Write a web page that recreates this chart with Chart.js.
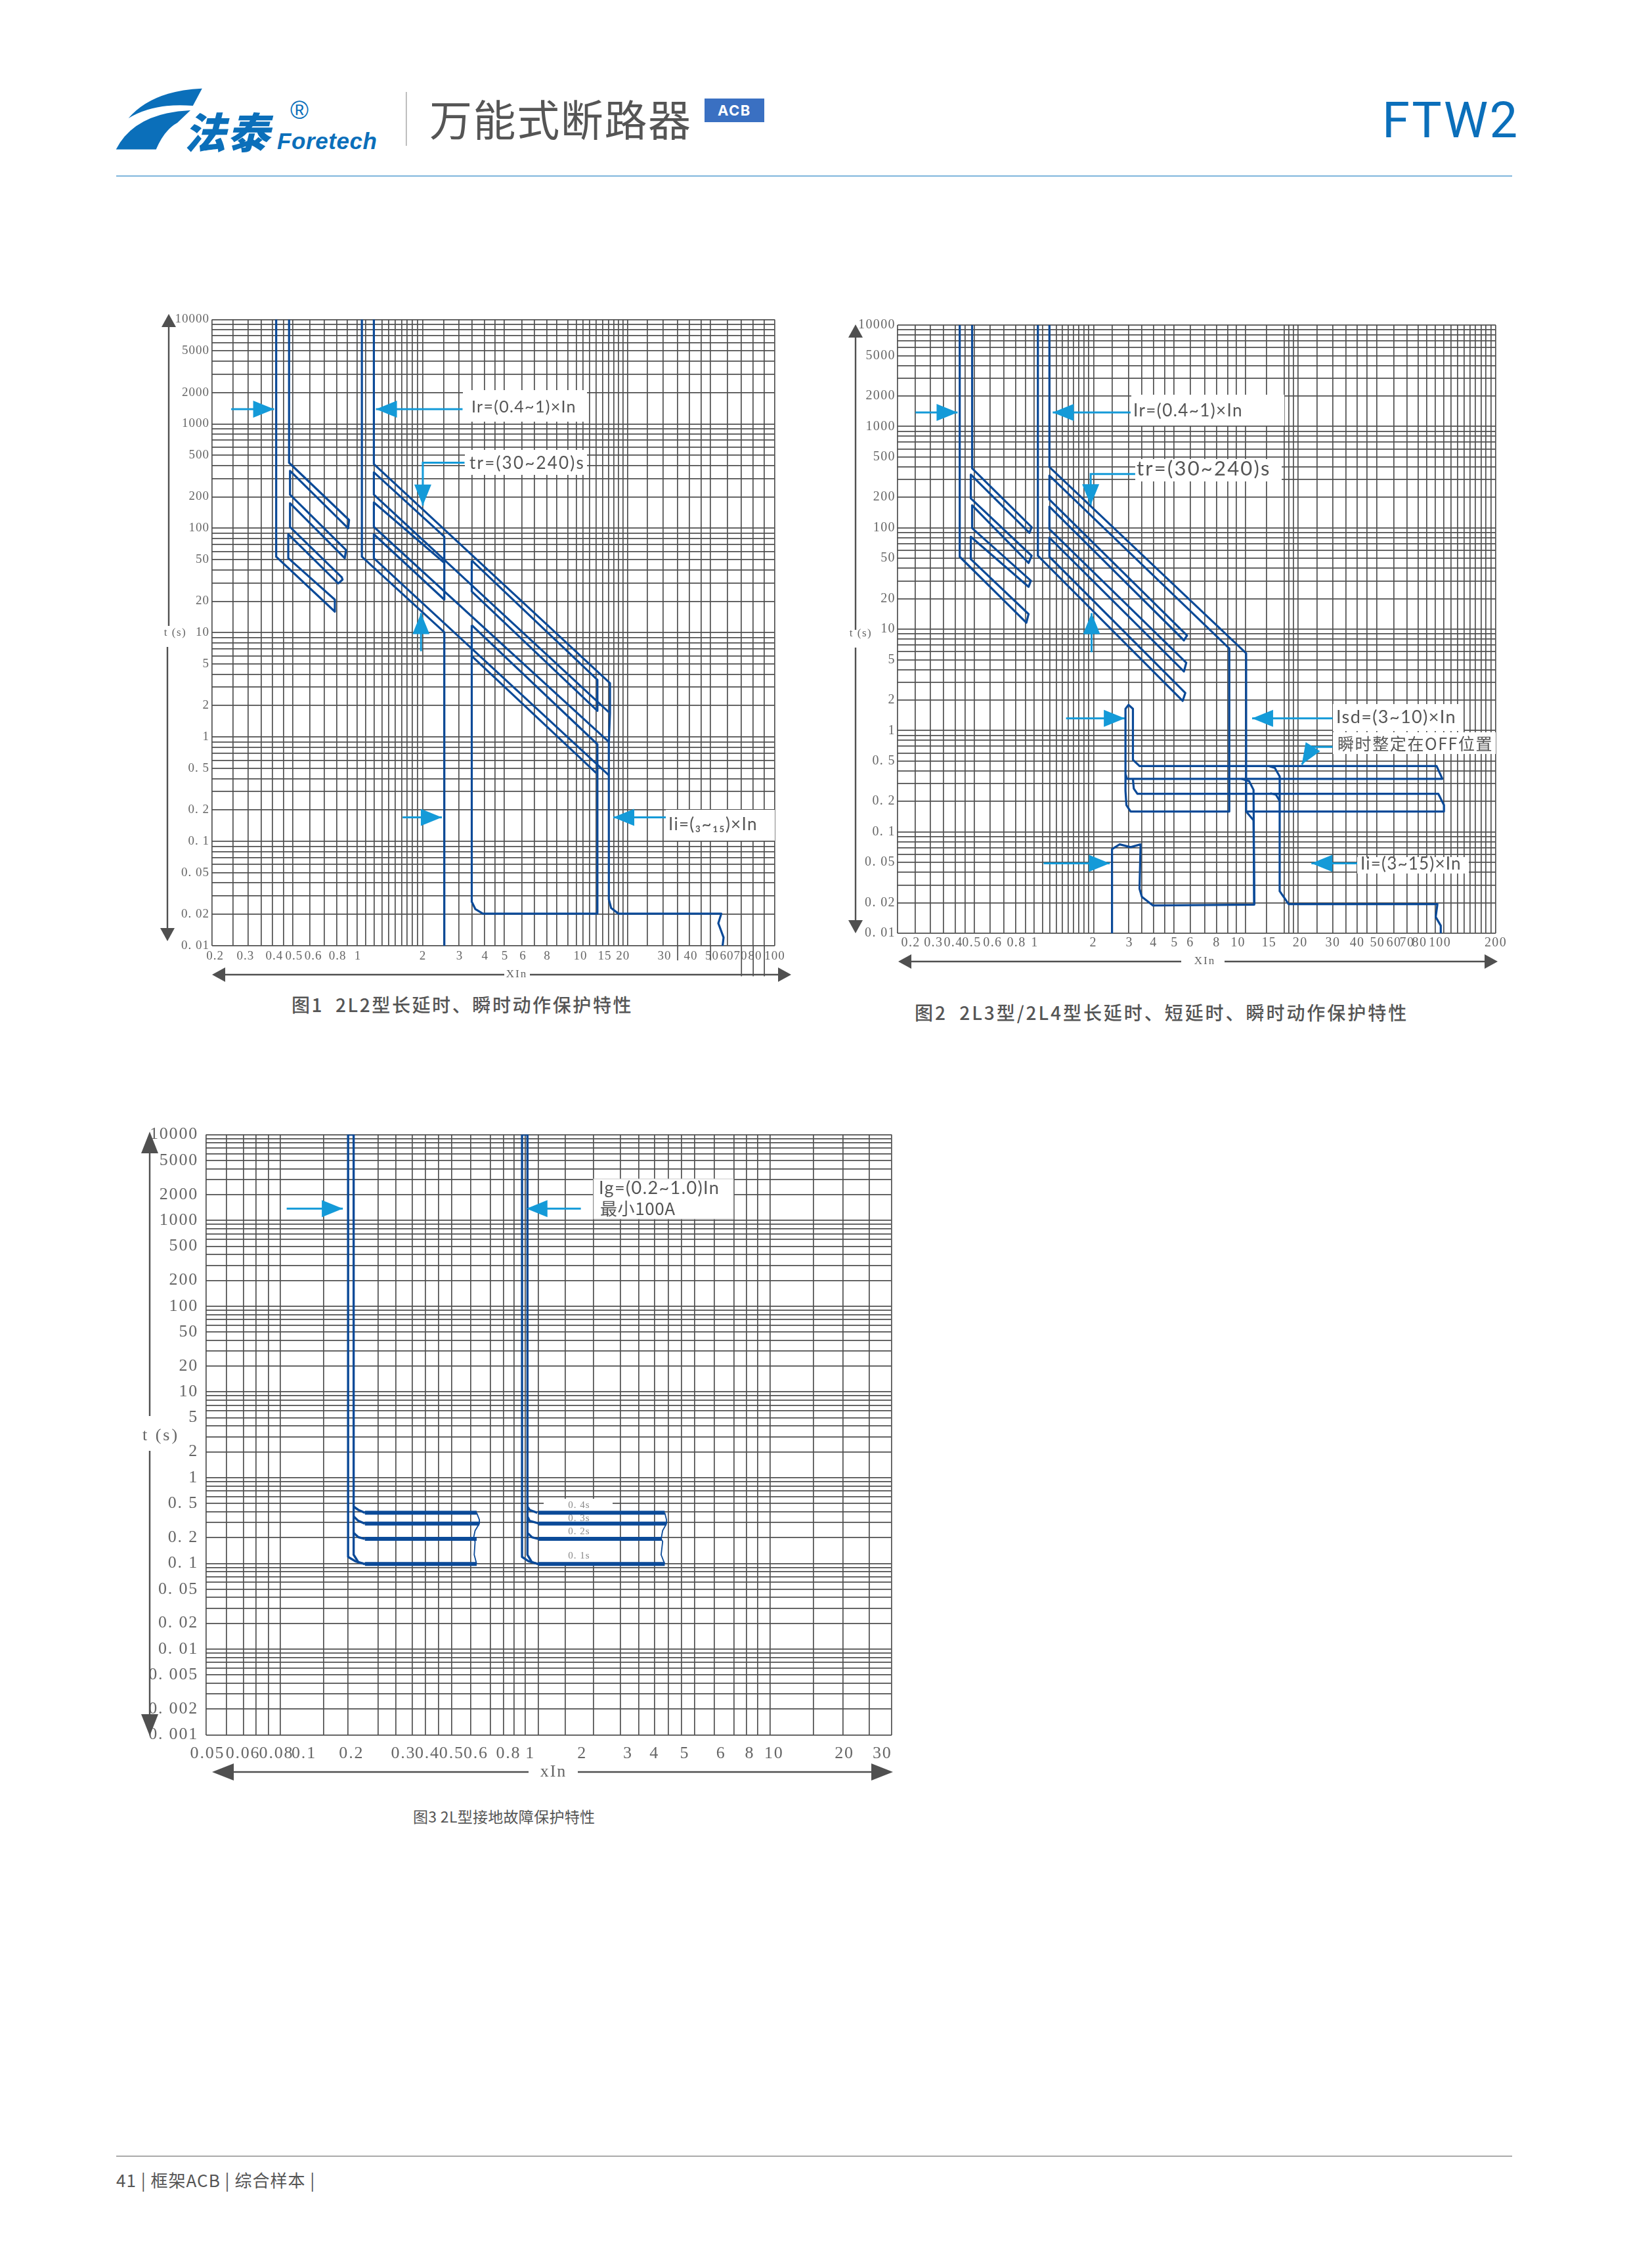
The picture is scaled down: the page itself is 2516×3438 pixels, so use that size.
<!DOCTYPE html>
<html lang="zh">
<head>
<meta charset="utf-8">
<title>FTW2 万能式断路器</title>
<script src="https://cdn.jsdelivr.net/npm/chart.js@4/dist/chart.umd.min.js"></script>
<style>
html, body { margin: 0; background: #fff; }
#page { position: relative; width: 2516px; height: 3438px; overflow: hidden; color: #555; font-family: "Noto Sans CJK SC", sans-serif; }
#page canvas { position: absolute; }
.t { position: absolute; white-space: nowrap; line-height: 1; }
.rule { position: absolute; height: 2px; }
</style>
</head>
<body>
<div id="page">
  <svg style="position:absolute;left:0;top:0" width="700" height="260" viewBox="0 0 700 260">
    <path fill="#0b6fba" d="M195.6,180 Q232,138 307.8,134.7 L293.8,161 Q235,156 195.6,180 Z"/>
    <path fill="#0b6fba" d="M176.7,227.6 Q205,172 290,168 L270,187 Q250,198 237.7,227.6 Z"/>
    <text x="280" y="226" transform="skewX(-14)" style="transform-origin:280px 226px" fill="#0b6fba" font-family="Noto Sans CJK SC" font-weight="900" font-size="64" textLength="130">法泰</text>
    <text x="422" y="227" fill="#0b6fba" font-family="Liberation Sans" font-weight="700" font-style="italic" font-size="35" textLength="152">Foretech</text>
    <text x="456" y="181" fill="#0b6fba" font-family="Liberation Sans" font-size="38" text-anchor="middle">®</text>
    <rect x="618" y="140" width="1.5" height="82" fill="#aaa"/>
  </svg>
  <div class="t" style="left:654px;top:147px;font-size:65px;letter-spacing:1.6px;font-weight:400">万能式断路器</div>
  <div class="t" style="left:1073px;top:150px;width:91px;height:36px;background:#3a70c2;color:#fff;font:700 22px/36px 'Inter';letter-spacing:1.5px;text-align:center">ACB</div>
  <div class="t" style="left:2105px;top:145px;font:400 76px/76px 'Roboto';letter-spacing:2.5px;color:#0b6fba">FTW2</div>
  <div class="rule" style="left:177px;top:267px;width:2126px;background:#7fb6dc"></div>

  <div class="t" style="left:444px;top:1515px;font-size:28px;letter-spacing:2.6px;font-weight:500">图1&nbsp; 2L2型长延时、瞬时动作保护特性</div>
  <div class="t" style="left:1393px;top:1527px;font-size:28px;letter-spacing:2.95px;font-weight:500">图2&nbsp; 2L3型/2L4型长延时、短延时、瞬时动作保护特性</div>
  <div class="t" style="left:629px;top:2754px;font-size:23px;letter-spacing:0.3px;font-weight:400">图3&nbsp;2L型接地故障保护特性</div>

  <div class="rule" style="left:177px;top:3282px;width:2126px;background:#aaa"></div>
  <div class="t" style="left:177px;top:3306px;font-size:26px;letter-spacing:1px;font-weight:400">41 | 框架ACB | 综合样本 |</div>
</div>
<script>
// Shared y grid
const yGridA = [0.01,0.02,0.03,0.04,0.05,0.06,0.07,0.08,0.09,0.1,0.2,0.3,0.4,0.5,0.6,0.7,0.8,0.9,1,2,3,4,5,6,7,8,9,10,20,30,40,50,60,70,80,90,100,200,300,400,500,600,700,800,900,1000,2000,3000,4000,5000,6000,7000,8000,9000,10000];
const yGridB = [0.001,0.002,0.003,0.004,0.005,0.006,0.007,0.008,0.009].concat(yGridA);
const yTicksA = [0.01,0.02,0.05,0.1,0.2,0.5,1,2,5,10,20,50,100,200,500,1000,2000,5000,10000];
const yTextA = ['0. 01','0. 02','0. 05','0. 1','0. 2','0. 5','1','2','5','10','20','50','100','200','500','1000','2000','5000','10000'];
const yTicksB = [0.001,0.002,0.005,0.01,0.02,0.05,0.1,0.2,0.5,1,2,5,10,20,50,100,200,500,1000,2000,5000,10000];
const yTextB = ['0. 001','0. 002','0. 005','0. 01','0. 02','0. 05','0. 1','0. 2','0. 5','1','2','5','10','20','50','100','200','500','1000','2000','5000','10000'];

// Figure 1
const xGrid1 = [0.2,0.252,0.298,0.345,0.39,0.441,0.488,0.589,0.691,0.793,0.891,0.993,1.092,1.2,1.31,1.41,1.51,1.63,1.72,1.83,1.94,2.05,2.59,3.06,3.53,4.06,4.56,5.04,6.13,7.04,8.08,9,10.2,11.2,12,12.9,13.9,14.9,15.9,16.9,17.8,18.7,19.7,24.5,29.2,34.2,39,44.4,49.2,59.4,69.2,78.8,89.1,100];
const xLabelAt1 = [0.207,0.289,0.398,0.495,0.611,0.8,1,2.05,3.08,4.08,5.08,6.2,8.1,11.7,15.3,18.7,29.6,39.5,50,58.9,68.6,80.5,100];
const xText1 = ['0.2','0.3','0.4','0.5','0.6','0.8','1','2','3','4','5','6','8','10','15','20','30','40','50','60','70','80','100'];
const f1LeftX = [0.406,0.406,0.776,0.776,0.464,0.464,0.806,0.845,0.837,0.473,0.473,0.866,0.878,0.473,0.473,0.899,0.908,0.468,0.468];
const f1LeftY = [10000,53.4,15.9,20.7,51.7,87.6,29.6,32.2,34,103,174,51.7,61.9,210,355,100,120,425,10000];
const f1DropX = [1.046,1.046,2.6,2.6];
const f1DropY = [10000,53.4,10.1,0.01];
const f1MainX = [1.194,1.194,16.2,16.2,16,16,16.4,17.8,55.4,53.6,56.8,56.2];
const f1MainY = [10000,412,3.28,1.69,0.898,0.0278,0.023,0.0203,0.0203,0.01644,0.012,0.01];
const f1BandAX = [1.194,2.6,2.6,1.194,1.194,16];
const f1BandAY = [344,83.1,20.7,87.6,51.7,0.43];
const f1BandBX = [2.6,1.194,1.194,16];
const f1BandBY = [46.6,177,103,0.898];
const f1BandCX = [1.194,1.194,16];
const f1BandCY = [344,210,1.73];
const f1InnerAX = [3.52,14.1,14.1,3.52,3.52];
const f1InnerAY = [49.1,3.53,1.78,24.8,49.1];
const f1InnerBX = [3.52,14.1,14.1,3.98,3.66,3.52,3.52];
const f1InnerBY = [11.8,0.852,0.0203,0.0203,0.0225,0.0264,11.8];
const f1InnerCX = [3.52,13.9];
const f1InnerCY = [5.97,0.453];
const f1StubX = [34.2,34.2,null,49.2,49.2,null,69.2,69.2,null,78.8,78.8,null,89.1,89.1];
const f1StubY = [0.01,0.00724,null,0.01,0.00724,null,0.01,0.0051,null,0.01,0.0051,null,0.01,0.0051];
const f1Arrows = [
  [[0.247,0.397],[1382,1382]],
  [[3.18,1.222],[1382,1382]],
  [[3.25,2.05,2.05],[425,425,165]],
  [[2.01,2.01],[6.64,15.4]],
  [[1.64,2.53],[0.17,0.17]],
  [[30,16.8],[0.17,0.17]]
];

// Figure 2
const xGrid2 = [0.2,0.245,0.292,0.34,0.39,0.437,0.486,0.583,0.683,0.783,0.877,0.968,1.068,1.161,1.253,1.342,1.436,1.526,1.622,1.722,1.816,1.93,2.386,2.885,3.36,3.85,4.38,4.87,5.88,6.95,7.96,9.06,10,11.1,14.2,17.4,18.3,19.3,20.4,25.4,30.5,35.5,40.4,45.2,50.7,61.7,71.8,81.7,90.2,99.5,110,119,129,139,149,158,169,178,190,200];
const xLabelAt2 = [0.233,0.303,0.381,0.471,0.6,0.789,0.975,1.92,2.91,3.85,4.9,5.88,7.96,10.2,14.6,20.9,30.5,40.4,51,61.7,71.8,83,105,200];
const xText2 = ['0.2','0.3','0.4','0.5','0.6','0.8','1','2','3','4','5','6','8','10','15','20','30','40','50','60','70','80','100','200'];
const f2LeftX = [0.41,0.41,0.885,0.908,0.466,0.466,0.908,0.932,0.473,0.473,0.908,0.941,0.466,0.466,0.917,0.941,0.473,0.473];
const f2LeftY = [10000,51.8,11.6,14.1,49.1,81.7,26.2,30.1,99.4,167,45,53,195,335,89.1,101.5,386,10000];
const f2ShortX = [1.011,1.011,5.38,5.55,1.155,1.155,5.46,5.61,1.155,1.155,5.46,5.66,1.155,1.155,9.22,9.22,2.95,2.81,2.78,2.78,2.88,3.03,3.03,3.27,101,108,2.83,2.78];
const f2ShortY = [10000,53,1.96,2.35,51.8,80,3.83,4.66,97.2,162,7.76,8.65,190,328,6.45,0.159,0.159,0.184,0.254,1.64,1.79,1.64,0.515,0.447,0.447,0.334,0.334,0.372];
const f2LongX = [1.155,1.155,11.2,11.2,12.2,12.3,3.82,3.36,3.27,3.31,2.95,2.6,2.38,2.38];
const f2LongY = [10000,398,5.79,0.159,0.13,0.0192,0.0188,0.0229,0.0275,0.0754,0.0707,0.0754,0.0677,0.01];
const f2LowerX = [3.03,3.06,3.19,103,110,110,11.2];
const f2LowerY = [0.334,0.268,0.238,0.238,0.184,0.159,0.159];
const f2InstX = [14.5,15.6,16.5,16.5,18.3,102,100,106,106];
const f2InstY = [0.447,0.428,0.352,0.026,0.0194,0.0194,0.0145,0.0119,0.01];
const f2BendAX = [10.6,11.6,12.2,12.3];
const f2BendAY = [0.334,0.316,0.26,0.0192];
const f2BendBX = [14.8,15.8,16.5];
const f2BendBY = [0.241,0.233,0.202];
const f2Arrows = [
  [[0.246,0.4],[1373,1373]],
  [[2.95,1.2],[1373,1373]],
  [[3.11,1.86,1.86],[339,339,167]],
  [[1.88,1.88],[5.92,14.4]],
  [[1.4,2.76],[1.32,1.32]],
  [[30.4,12],[1.32,1.32]],
  [[30.4,24.2,21.3],[0.69,0.69,0.462]],
  [[1.08,2.32],[0.0489,0.0489]],
  [[40.4,23.8],[0.0489,0.0489]]
];

// Figure 3
const xGrid3 = [0.05,0.0604,0.0708,0.0796,0.0894,0.1,0.15,0.188,0.249,0.294,0.343,0.387,0.438,0.493,0.59,0.708,0.802,0.884,0.983,1.11,1.43,1.86,2.38,2.83,3.29,3.74,4.23,4.77,5.72,6.88,7.74,8.58,9.65,14.5,19.1,24.4,30];
const xLabelAt3 = [0.0506,0.0705,0.0963,0.1246,0.194,0.315,0.394,0.494,0.62,0.84,1.03,1.67,2.56,3.28,4.35,6.1,7.98,10,19.3,27.5];
const xText3 = ['0.05','0.06','0.08','0.1','0.2','0.3','0.4','0.5','0.6','0.8','1','2','3','4','5','6','8','10','20','30'];
const f3OuterLX = [0.198,0.188,0.188,0.201,0.207,0.22];
const f3OuterLY = [10000,10000,0.119,0.106,0.103,0.0983];
const f3InnerLX = [0.198,0.198,0.207,0.22];
const f3InnerLY = [10000,0.126,0.103,0.0983];
const f3BendLX = [0.198,0.207,0.22,null,0.198,0.207,0.22,null,0.198,0.207,0.22];
const f3BendLY = [0.459,0.42,0.389,null,0.353,0.313,0.291,null,0.227,0.202,0.193];
const f3BarsLX = [0.22,0.624,null,0.22,0.64,null,0.22,0.624,null,0.22,0.624];
const f3BarsLY = [0.389,0.389,null,0.291,0.291,null,0.193,0.193,null,0.0983,0.0983];
const f3WaveLX = [0.624,0.64,0.64,0.615,0.605,0.615,0.61,0.624];
const f3WaveLY = [0.389,0.323,0.291,0.241,0.193,0.18,0.126,0.0983];
const f3OuterRX = [1.0025,0.953,0.953,1.013,1.045,1.11];
const f3OuterRY = [10000,10000,0.119,0.106,0.103,0.0983];
const f3InnerRX = [1.0025,1.0025,1.045,1.11];
const f3InnerRY = [10000,0.126,0.103,0.0983];
const f3BendRX = [1.0025,1.023,1.099,null,1.0025,1.023,1.099,1.11,null,1.0025,1.045,1.11];
const f3BendRY = [0.459,0.42,0.389,null,0.353,0.313,0.296,0.291,null,0.227,0.202,0.193];
const f3BarsRX = [1.11,3.61,null,1.11,3.67,null,1.11,3.51,null,1.11,3.61];
const f3BarsRY = [0.389,0.389,null,0.291,0.291,null,0.193,0.193,null,0.0983,0.0983];
const f3WaveRX = [3.61,3.67,3.67,3.54,3.49,3.54,3.49,3.61];
const f3WaveRY = [0.389,0.323,0.291,0.241,0.193,0.18,0.126,0.0983];
const f3Arrows = [
  [[0.106,0.179],[1374,1374]],
  [[1.65,0.993],[1374,1374]]
];

const CURVE = '#0b4a98';
const ARROW = '#149ad8';
const DARK = '#505050';
const SANS = '"Lato", "Noto Sans CJK SC", sans-serif';
const CJK = '"Noto Sans CJK SC", sans-serif';
const SERIF = '"Liberation Serif", serif';

function pts(xs, ys) {
  return xs.map((x, i) => ({ x: x, y: ys[i] }));
}

function curve(xs, ys, width) {
  return { data: pts(xs, ys), showLine: true, borderColor: CURVE, borderWidth: width || 3.2, pointRadius: 0, borderJoinStyle: 'round' };
}

function callout(a) {
  return { data: pts(a[0], a[1]), showLine: true, borderColor: ARROW, borderWidth: 3, pointRadius: 0, clip: false, arrow: true };
}

function stub(xs, ys) {
  return { data: pts(xs, ys), showLine: true, borderColor: DARK, borderWidth: 1.7, pointRadius: 0, clip: false };
}

function head(ctx, tx, ty, dx, dy, len, half, color) {
  const n = Math.hypot(dx, dy) || 1;
  const ux = dx / n, uy = dy / n;
  ctx.fillStyle = color;
  ctx.beginPath();
  ctx.moveTo(tx, ty);
  ctx.lineTo(tx - ux * len - uy * half, ty - uy * len + ux * half);
  ctx.lineTo(tx - ux * len + uy * half, ty - uy * len - ux * half);
  ctx.closePath();
  ctx.fill();
}

function label(ctx, s, x, y, font, color, align, spacing) {
  ctx.font = font;
  ctx.fillStyle = color;
  ctx.textAlign = align || 'left';
  ctx.textBaseline = 'middle';
  ctx.letterSpacing = (spacing || 0) + 'px';
  ctx.fillText(s, x, y);
}

function line(ctx, x1, y1, x2, y2) {
  ctx.strokeStyle = DARK;
  ctx.lineWidth = 2.4;
  ctx.beginPath();
  ctx.moveTo(x1, y1);
  ctx.lineTo(x2, y2);
  ctx.stroke();
}

// One log-log chart placed on the page
function makeChart(c) {
  const canvas = document.createElement('canvas');
  canvas.width = c.box[2];
  canvas.height = c.box[3];
  canvas.style.left = c.box[0] + 'px';
  canvas.style.top = c.box[1] + 'px';
  canvas.style.width = c.box[2] + 'px';
  canvas.style.height = c.box[3] + 'px';
  document.getElementById('page').appendChild(canvas);

  const decor = {
    id: 'decor',
    beforeDraw(chart) {
      chart.ctx.letterSpacing = c.tickSpacing + 'px';
    },
    beforeDatasetsDraw(chart) {
      const ctx = chart.ctx;
      ctx.save();
      ctx.translate(-c.box[0], -c.box[1]);
      c.boxes.forEach(b => {
        ctx.fillStyle = '#fff';
        ctx.fillRect(b[0], b[1], b[2] - b[0], b[3] - b[1]);
        if (b[4]) {
          ctx.strokeStyle = b[4];
          ctx.lineWidth = 1;
          ctx.strokeRect(b[0], b[1], b[2] - b[0], b[3] - b[1]);
        }
      });
      c.notes.forEach(n => label(ctx, n[0], n[1], n[2], n[3], n[4], n[5], n[6]));
      ctx.restore();
    },
    afterDatasetsDraw(chart) {
      const ctx = chart.ctx;
      chart.data.datasets.forEach((d, i) => {
        if (!d.arrow) return;
        const p = chart.getDatasetMeta(i).data;
        const tip = p[p.length - 1], prev = p[p.length - 2];
        head(ctx, tip.x, tip.y, tip.x - prev.x, tip.y - prev.y, 32, 13, ARROW);
      });
      ctx.save();
      ctx.translate(-c.box[0], -c.box[1]);
      const a = c.axis;
      line(ctx, a.yx, a.yTop + a.hy, a.yx, a.yGap[0]);
      line(ctx, a.yx2, a.yGap[1], a.yx2, a.yBottom - a.hy);
      head(ctx, a.yx, a.yTop, 0, -1, a.hy, a.hw, DARK);
      head(ctx, a.yx2, a.yBottom, 0, 1, a.hy, a.hw, DARK);
      line(ctx, a.xLeft + a.hy, a.xy, a.xGap[0], a.xy);
      line(ctx, a.xGap[1], a.xy, a.xRight - a.hy, a.xy);
      head(ctx, a.xLeft, a.xy, -1, 0, a.hy, a.hw, DARK);
      head(ctx, a.xRight, a.xy, 1, 0, a.hy, a.hw, DARK);
      label(ctx, 't (s)', a.tAt[0], a.tAt[1], a.titleFont, '#666', 'center', a.titleSpacing);
      label(ctx, c.xTitle, a.xtAt, a.xy, a.titleFont, '#666', 'center', 2);
      ctx.restore();
    }
  };

  return new Chart(canvas, {
    type: 'scatter',
    data: { datasets: c.datasets },
    plugins: [decor],
    options: {
      responsive: false,
      animation: false,
      events: [],
      layout: { padding: { left: 0, top: c.plot[1] - c.box[1], right: c.box[0] + c.box[2] - c.plot[2], bottom: c.box[1] + c.box[3] - c.plot[3] - c.labelH } },
      plugins: { legend: { display: false }, tooltip: { enabled: false } },
      scales: {
        x: {
          type: 'logarithmic', position: 'bottom', min: c.xMin, max: c.xMax, weight: 1,
          border: { display: false },
          grid: { color: DARK, lineWidth: 1.7, drawTicks: false },
          ticks: { display: false, autoSkip: false, maxRotation: 0 },
          afterBuildTicks: s => { s.ticks = c.xGrid.map(v => ({ value: v })); },
          afterFit: s => { s.height = 0; }
        },
        xLab: {
          type: 'logarithmic', position: 'bottom', min: c.xMin, max: c.xMax, weight: 0,
          border: { display: false },
          grid: { display: false, drawTicks: false },
          ticks: { autoSkip: false, maxRotation: 0, minRotation: 0, padding: c.xPad, color: '#666', font: { family: 'Liberation Serif', size: c.tickSize }, callback: (v, i) => c.xText[i] },
          afterBuildTicks: s => { s.ticks = c.xAt.map(v => ({ value: v })); },
          afterFit: s => { s.height = c.labelH; }
        },
        y: {
          type: 'logarithmic', position: 'left', min: c.yMin, max: 10000,
          border: { display: false },
          grid: { color: DARK, lineWidth: 1.7, drawTicks: false },
          ticks: { autoSkip: false, maxRotation: 0, padding: c.yPad, color: '#666', font: { family: 'Liberation Serif', size: c.tickSize }, callback: v => { const k = c.yAt.indexOf(v); return k < 0 ? '' : c.yText[k]; } },
          afterBuildTicks: s => { s.ticks = c.yGrid.map(v => ({ value: v })); },
          afterFit: s => { s.width = c.plot[0] - c.box[0]; }
        }
      }
    }
  });
}

makeChart({
  box: [230, 460, 1000, 1040], plot: [323, 486.5, 1180, 1440], labelH: 30,
  xMin: 0.2, xMax: 100, yMin: 0.01, xGrid: xGrid1, xAt: xLabelAt1, xText: xText1,
  yGrid: yGridA, yAt: yTicksA, yText: yTextA, tickSize: 19, tickSpacing: 1, xPad: 5, yPad: 4, xTitle: 'XIn',
  axis: { yx: 257, yx2: 255, yTop: 478, yBottom: 1433, yGap: [953, 985], xy: 1484, xLeft: 323, xRight: 1205, xGap: [768, 807], hy: 20, hw: 11, tAt: [267, 964], xtAt: 787, titleFont: '17px ' + SERIF, titleSpacing: 1.5 },
  boxes: [[705, 594, 894, 642], [708, 685, 894, 723], [1014, 1233, 1180, 1280]],
  notes: [
    ['Ir=(0.4~1)×In', 718, 620, '25px ' + SANS, '#555', 'left', 1.3],
    ['tr=(30~240)s', 715, 706, '26px ' + SANS, '#555', 'left', 2.2],
    ['Ii=(₃~₁₅)×In', 1018, 1256, '26px ' + SANS, '#555', 'left', 1.3]
  ],
  datasets: [
    curve(f1LeftX, f1LeftY), curve(f1DropX, f1DropY), curve(f1MainX, f1MainY),
    curve(f1BandAX, f1BandAY), curve(f1BandBX, f1BandBY), curve(f1BandCX, f1BandCY),
    curve(f1InnerAX, f1InnerAY), curve(f1InnerBX, f1InnerBY), curve(f1InnerCX, f1InnerCY),
    stub(f1StubX, f1StubY)
  ].concat(f1Arrows.map(callout))
});

makeChart({
  box: [1285, 470, 1045, 1010], plot: [1367, 495, 2278, 1421], labelH: 26,
  xMin: 0.2, xMax: 200, yMin: 0.01, xGrid: xGrid2, xAt: xLabelAt2, xText: xText2,
  yGrid: yGridA, yAt: yTicksA, yText: yTextA, tickSize: 20, tickSpacing: 1.4, xPad: 3, yPad: 3, xTitle: 'XIn',
  axis: { yx: 1303, yx2: 1303, yTop: 494, yBottom: 1421, yGap: [959, 986], xy: 1464, xLeft: 1368, xRight: 2281, xGap: [1799, 1865], hy: 20, hw: 11, tAt: [1311, 965], xtAt: 1835, titleFont: '17px ' + SERIF, titleSpacing: 1.5 },
  boxes: [[1723, 601, 1956, 648], [1729, 699, 1952, 733], [2030, 1072, 2229, 1113], [2030, 1115, 2278, 1148], [2067, 1305, 2237, 1330]],
  notes: [
    ['Ir=(0.4~1)×In', 1726, 626, '26px ' + SANS, '#555', 'left', 1.4],
    ['tr=(30~240)s', 1731, 714, '31px ' + SANS, '#555', 'left', 2.2],
    ['Isd=(3~10)×In', 2035, 1092, '27px ' + SANS, '#555', 'left', 1.4],
    ['瞬时整定在OFF位置', 2037, 1132, '25px ' + CJK, '#555', 'left', 1.6],
    ['Ii=(3~15)×In', 2072, 1316, '26px ' + SANS, '#555', 'left', 1.2]
  ],
  datasets: [
    curve(f2LeftX, f2LeftY), curve(f2ShortX, f2ShortY), curve(f2LongX, f2LongY),
    curve(f2LowerX, f2LowerY), curve(f2InstX, f2InstY), curve(f2BendAX, f2BendAY), curve(f2BendBX, f2BendBY)
  ].concat(f2Arrows.map(callout))
});

makeChart({
  box: [205, 1700, 1195, 1020], plot: [314, 1725, 1358, 2641.5], labelH: 40,
  xMin: 0.05, xMax: 30, yMin: 0.001, xGrid: xGrid3, xAt: xLabelAt3, xText: xText3,
  yGrid: yGridB, yAt: yTicksB, yText: yTextB, tickSize: 26, tickSpacing: 1.8, xPad: 13, yPad: 12, xTitle: 'xIn',
  axis: { yx: 228, yx2: 228, yTop: 1723, yBottom: 2643, yGap: [2156, 2209], xy: 2698, xLeft: 323, xRight: 1360, xGap: [805, 880], hy: 33, hw: 13, tAt: [245, 2186], xtAt: 843, titleFont: '26px ' + SERIF, titleSpacing: 3 },
  boxes: [[904, 1795, 1117, 1856, '#ccc'], [828, 2282, 933, 2381]],
  notes: [
    ['Ig=(0.2~1.0)In', 912, 1809, '27px ' + SANS, '#555', 'left', 1.4],
    ['最小100A', 914, 1840, '26px ' + CJK, '#555', 'left', 0.6],
    ['0. 4s', 882, 2292, '15px ' + SERIF, '#888', 'center', 1],
    ['0. 3s', 882, 2312, '15px ' + SERIF, '#888', 'center', 1],
    ['0. 2s', 882, 2332, '15px ' + SERIF, '#888', 'center', 1],
    ['0. 1s', 882, 2369, '15px ' + SERIF, '#888', 'center', 1]
  ],
  datasets: [
    curve(f3OuterLX, f3OuterLY, 3.4), curve(f3InnerLX, f3InnerLY, 3.4), curve(f3BendLX, f3BendLY, 3.4),
    curve(f3BarsLX, f3BarsLY, 6), curve(f3WaveLX, f3WaveLY, 1.8),
    curve(f3OuterRX, f3OuterRY, 3.4), curve(f3InnerRX, f3InnerRY, 3.4), curve(f3BendRX, f3BendRY, 3.4),
    curve(f3BarsRX, f3BarsRY, 6), curve(f3WaveRX, f3WaveRY, 1.8)
  ].concat(f3Arrows.map(callout))
});
</script>
</body>
</html>
